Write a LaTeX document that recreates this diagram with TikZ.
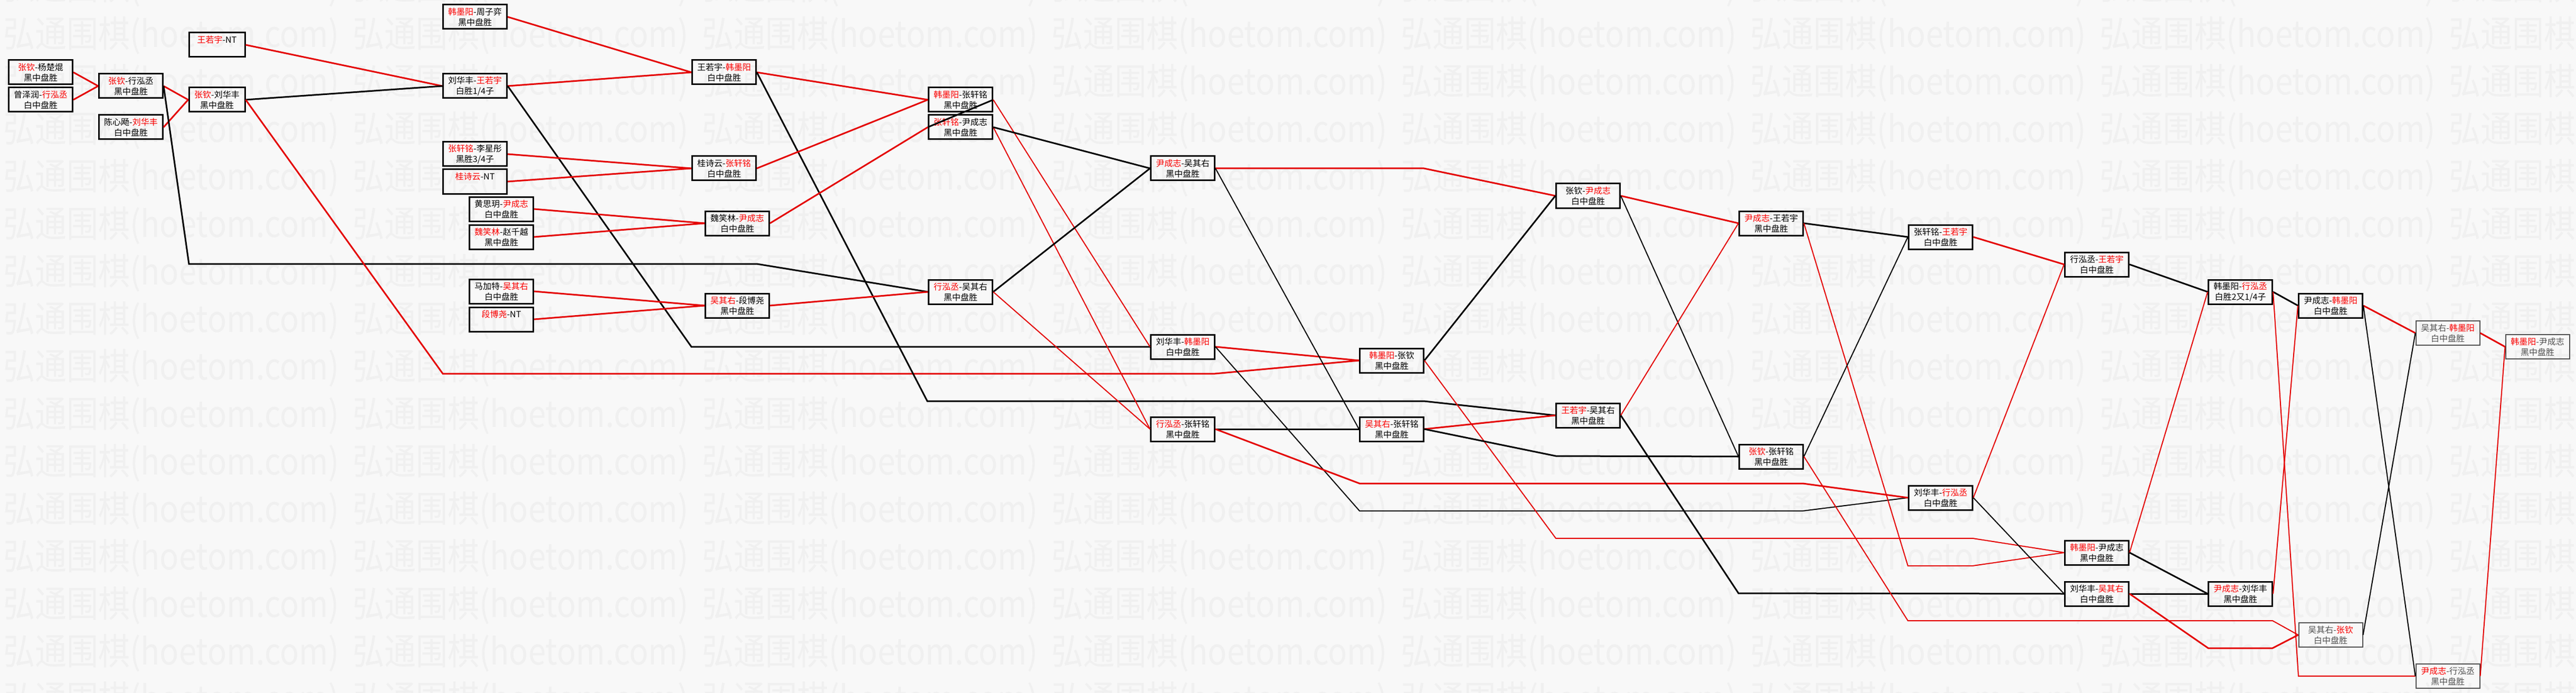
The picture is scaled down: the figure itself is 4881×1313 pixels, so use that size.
\documentclass[tikz,border=0pt]{standalone}
\usepackage{fontspec}
\newfontfamily\cjk{Noto Sans CJK SC}
\definecolor{lr}{RGB}{228,0,0}
\definecolor{tr}{RGB}{250,0,0}
\definecolor{bgc}{RGB}{248,248,248}
\definecolor{wmc}{RGB}{240,240,240}
\definecolor{gtx}{RGB}{80,80,80}
\newcommand\WinR[1]{\textcolor{tr}{#1}}
\begin{document}
\begin{tikzpicture}[x=1pt,y=-1pt,
  box/.style={draw=black, line width=3pt, minimum width=121pt, minimum height=46pt,
    inner sep=0pt, align=center, font=\cjk\fontsize{16pt}{20pt}\selectfont},
  cbox/.style={box, minimum width=106pt},
  gbox/.style={box, draw=gtx, line width=2pt, text=gtx},
  rT/.style={draw=lr, line width=3pt},
  rt/.style={draw=lr, line width=2pt},
  bT/.style={draw=black, line width=3pt},
  bt/.style={draw=black, line width=2pt},
  wm/.style={anchor=west, text=wmc, inner sep=0pt, yscale=1.15, font=\cjk\fontsize{60pt}{60pt}\selectfont}]
\useasboundingbox (0,0) rectangle (4881,1313);
\fill[bgc] (0,0) rectangle (4881,1313);
\foreach \j in {0,...,7} {
  \foreach \k in {-1,...,14} {
    \node[wm] at (6+662*\j, 67+90*\k) {弘通围棋(hoetom.com)};
  }
}
% nodes
\node[box] (A1) at (77,137) {\WinR{张钦}-杨楚焜\\黑中盘胜};
\node[box] (A2) at (77,189) {曾泽润-\WinR{行泓丞}\\白中盘胜};
\node[box] (B1) at (248,163) {\WinR{张钦}-行泓丞\\黑中盘胜};
\node[box] (B2) at (248,241) {陈心飏-\WinR{刘华丰}\\白中盘胜};
\node[cbox] (C1) at (411,85) {\WinR{王若宇}-NT\\~};
\node[cbox] (C2) at (411,189) {\WinR{张钦}-刘华丰\\黑中盘胜};
\node[box] (D0) at (900,32) {\WinR{韩墨阳}-周子弈\\黑中盘胜};
\node[box] (D1) at (900,163) {刘华丰-\WinR{王若宇}\\白胜1/4子};
\node[box] (D2) at (900,292) {\WinR{张轩铭}-李星彤\\黑胜3/4子};
\node[box] (D3) at (900,344) {\WinR{桂诗云}-NT\\~};
\node[box] (D4) at (950,396) {黄思玥-\WinR{尹成志}\\白中盘胜};
\node[box] (D5) at (950,449) {\WinR{魏笑林}-赵千越\\黑中盘胜};
\node[box] (D6) at (950,552) {马加特-\WinR{吴其右}\\白中盘胜};
\node[box] (D7) at (950,605) {\WinR{段博尧}-NT\\~};
\node[box] (E1) at (1372,137) {王若宇-\WinR{韩墨阳}\\白中盘胜};
\node[box] (E2) at (1372,319) {桂诗云-\WinR{张轩铭}\\白中盘胜};
\node[box] (E3) at (1397,423) {魏笑林-\WinR{尹成志}\\白中盘胜};
\node[box] (E4) at (1397,579) {\WinR{吴其右}-段博尧\\黑中盘胜};
\node[box] (F1) at (1820,189) {\WinR{韩墨阳}-张轩铭\\黑中盘胜};
\node[box] (F2) at (1820,241) {\WinR{张轩铭}-尹成志\\黑中盘胜};
\node[box] (F3) at (1820,553) {\WinR{行泓丞}-吴其右\\黑中盘胜};
\node[box] (G1) at (2241,319) {\WinR{尹成志}-吴其右\\黑中盘胜};
\node[box] (F4) at (2241,657) {刘华丰-\WinR{韩墨阳}\\白中盘胜};
\node[box] (F5) at (2241,813) {\WinR{行泓丞}-张轩铭\\黑中盘胜};
\node[box] (G2) at (2637,683) {\WinR{韩墨阳}-张钦\\黑中盘胜};
\node[box] (G3) at (2637,813) {\WinR{吴其右}-张轩铭\\黑中盘胜};
\node[box] (H1) at (3009,371) {张钦-\WinR{尹成志}\\白中盘胜};
\node[box] (H2) at (3009,787) {\WinR{王若宇}-吴其右\\黑中盘胜};
\node[box] (I1) at (3356,423) {\WinR{尹成志}-王若宇\\黑中盘胜};
\node[box] (I3) at (3356,865) {\WinR{张钦}-张轩铭\\黑中盘胜};
\node[box] (J1) at (3677,449) {张轩铭-\WinR{王若宇}\\白中盘胜};
\node[box] (J2) at (3677,943) {刘华丰-\WinR{行泓丞}\\白中盘胜};
\node[box] (K0) at (3973,501) {行泓丞-\WinR{王若宇}\\白中盘胜};
\node[box] (K1) at (3973,1047) {\WinR{韩墨阳}-尹成志\\黑中盘胜};
\node[box] (K2) at (3973,1125) {刘华丰-\WinR{吴其右}\\白中盘胜};
\node[box] (L0) at (4245,553) {韩墨阳-\WinR{行泓丞}\\白胜2又1/4子};
\node[box] (L1) at (4245,1125) {\WinR{尹成志}-刘华丰\\黑中盘胜};
\node[box] (M0) at (4416,579) {尹成志-\WinR{韩墨阳}\\白中盘胜};
\node[gbox] (M1) at (4416,1203) {吴其右-\WinR{张钦}\\白中盘胜};
\node[gbox] (N0) at (4638,631) {吴其右-\WinR{韩墨阳}\\白中盘胜};
\node[gbox] (N1) at (4638,1281) {\WinR{尹成志}-行泓丞\\黑中盘胜};
\node[gbox] (O0) at (4808,657) {\WinR{韩墨阳}-尹成志\\黑中盘胜};
% connectors
\draw[rT] (A1.east) -- (B1.west);
\draw[rT] (A2.east) -- (B1.west);
\draw[rT] (B1.east) -- (C2.west);
\draw[rT] (B2.east) -- (C2.west);
\draw[bT] (B1.east) -- (358,500) -- (1434,500) -- (F3.west);
\draw[rT] (C1.east) -- (D1.west);
\draw[bT] (C2.east) -- (D1.west);
\draw[rT] (C2.east) -- (839,708) -- (2302,708) -- (G2.west);
\draw[rT] (D0.east) -- (E1.west);
\draw[rT] (D1.east) -- (E1.west);
\draw[bT] (D1.east) -- (1310,657) -- (F4.west);
\draw[rT] (D2.east) -- (E2.west);
\draw[rT] (D3.east) -- (E2.west);
\draw[rT] (D4.east) -- (E3.west);
\draw[rT] (D5.east) -- (E3.west);
\draw[rT] (D6.east) -- (E4.west);
\draw[rT] (D7.east) -- (E4.west);
\draw[rT] (E1.east) -- (F1.west);
\draw[bT] (E1.east) -- (1757,760) -- (2698,760) -- (H2.west);
\draw[rT] (E2.east) -- (F1.west);
\draw[rT] (E3.east) -- (F2.west);
\draw[rT] (E4.east) -- (F3.west);
\draw[bT] (F1.east) -- (F2.west);
\draw[rt] (F1.east) -- (F4.west);
\draw[rt] (F2.east) -- (F5.west);
\draw[bT] (F2.east) -- (G1.west);
\draw[bT] (F3.east) -- (G1.west);
\draw[rt] (F3.east) -- (F5.west);
\draw[rT] (F4.east) -- (G2.west);
\draw[bt] (F4.east) -- (2576,968) -- (3416,968) -- (J2.west);
\draw[bT] (F5.east) -- (G3.west);
\draw[rT] (F5.east) -- (2576,916) -- (3416,916) -- (J2.west);
\draw[rT] (G1.east) -- (2698,319) -- (H1.west);
\draw[bt] (G1.east) -- (G3.west);
\draw[bT] (G2.east) -- (H1.west);
\draw[rt] (G2.east) -- (2948,1020) -- (3738,1020) -- (K1.west);
\draw[rT] (G3.east) -- (H2.west);
\draw[bT] (G3.east) -- (2948,864) -- (I3.west);
\draw[rT] (H1.east) -- (I1.west);
\draw[bt] (H1.east) -- (I3.west);
\draw[rt] (H2.east) -- (I1.west);
\draw[bT] (H2.east) -- (3294,1124) -- (K2.west);
\draw[bT] (I1.east) -- (J1.west);
\draw[rt] (I1.east) -- (3615,1072) -- (3738,1072) -- (K1.west);
\draw[bt] (I3.east) -- (J1.west);
\draw[rt] (I3.east) -- (3615,1176) -- (4306,1176) -- (M1.west);
\draw[rT] (J1.east) -- (K0.west);
\draw[rt] (J2.east) -- (K0.west);
\draw[bt] (J2.east) -- (K2.west);
\draw[bT] (K0.east) -- (L0.west);
\draw[rt] (K1.east) -- (L0.west);
\draw[bT] (K1.east) -- (L1.west);
\draw[bT] (K2.east) -- (L1.west);
\draw[rT] (K2.east) -- (4184,1228) -- (4306,1228) -- (M1.west);
\draw[bT] (L0.east) -- (M0.west);
\draw[rt] (L0.east) -- (4355,1281) -- (N1.west);
\draw[rt] (L1.east) -- (M0.west);
\draw[rT] (M0.east) -- (N0.west);
\draw[bt] (M0.east) -- (N1.west);
\draw[bt] (M1.east) -- (N0.west);
\draw[rT] (N0.east) -- (O0.west);
\draw[rt] (N1.east) -- (O0.west);
\end{tikzpicture}
\end{document}
